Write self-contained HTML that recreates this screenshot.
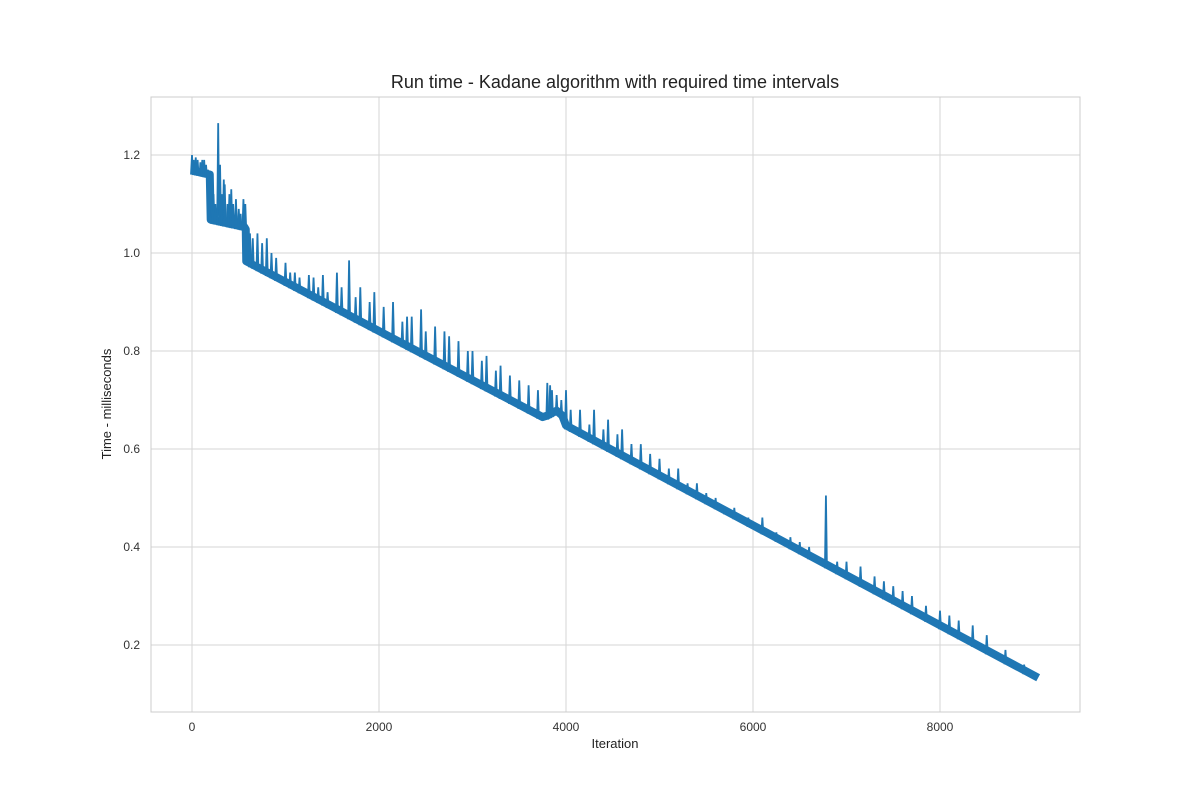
<!DOCTYPE html>
<html><head><meta charset="utf-8"><style>
body{margin:0;background:#fff;font-family:"Liberation Sans",sans-serif;}
</style></head><body>
<svg id="chart" width="1200" height="800">
<text x="615" y="88" text-anchor="middle" font-size="18" fill="#222">Run time - Kadane algorithm with required time intervals</text>
<g id="grid"></g>
<rect x="151" y="97" width="929" height="615" fill="none" stroke="#ccc" stroke-width="1"/>
<g id="marks"></g>
<g id="ticks"></g>
<text x="615" y="748" text-anchor="middle" font-size="13" fill="#222">Iteration</text>
<text transform="translate(111,404) rotate(-90)" text-anchor="middle" font-size="13" fill="#222">Time - milliseconds</text>
</svg>
<script>
const xTicks=[0,2000,4000,6000,8000];
const yTicks=[0.2,0.4,0.6,0.8,1.0,1.2];
const baseIters=[0,190,200,560,575,580,3750,3800,3900,3960,4000,9050];
const baseTimes=[1.16,1.152,1.06,1.045,1.04,0.975,0.657,0.66,0.67,0.66,0.64,0.125];
const spikeIters=[0,20,40,60,90,110,130,150,170,210,230,250,280,300,320,340,350,380,400,420,440,470,500,520,550,570,620,650,700,750,800,850,900,1000,1050,1100,1150,1250,1300,1350,1400,1450,1550,1600,1680,1750,1800,1900,1950,2050,2150,2250,2300,2350,2450,2500,2600,2700,2750,2850,2950,3000,3100,3150,3250,3300,3400,3500,3600,3700,3800,3830,3850,3900,3950,4000,4050,4150,4250,4300,4400,4450,4550,4600,4700,4800,4900,5000,5100,5200,5300,5400,5500,5600,5700,5800,5950,6100,6250,6400,6500,6600,6780,6900,7000,7150,7300,7400,7500,7600,7700,7850,8000,8100,8200,8350,8500,8700,8900];
const spikeTimes=[1.2,1.19,1.195,1.19,1.185,1.19,1.19,1.18,1.17,1.1,1.12,1.1,1.265,1.18,1.12,1.15,1.14,1.1,1.12,1.13,1.1,1.11,1.09,1.08,1.11,1.1,1.04,1.03,1.04,1.02,1.03,1.0,0.99,0.98,0.96,0.96,0.95,0.955,0.95,0.93,0.955,0.92,0.96,0.93,0.985,0.91,0.93,0.9,0.92,0.89,0.9,0.86,0.87,0.87,0.885,0.84,0.85,0.84,0.83,0.82,0.8,0.8,0.78,0.79,0.76,0.77,0.75,0.74,0.73,0.72,0.735,0.73,0.72,0.71,0.7,0.72,0.68,0.68,0.65,0.68,0.64,0.66,0.63,0.64,0.61,0.61,0.59,0.58,0.56,0.56,0.53,0.53,0.51,0.5,0.48,0.48,0.46,0.46,0.43,0.42,0.41,0.4,0.505,0.37,0.37,0.36,0.34,0.33,0.32,0.31,0.3,0.28,0.27,0.26,0.25,0.24,0.22,0.19,0.16];
const X=v=>192+v*(379-192)/2000;
const Y=v=>645-(v-0.2)*490;
const NS="http://www.w3.org/2000/svg";
function mk(t,a,p){const e=document.createElementNS(NS,t);for(const k in a)e.setAttribute(k,a[k]);p.appendChild(e);return e;}
const grid=document.getElementById('grid'),ticks=document.getElementById('ticks'),marks=document.getElementById('marks');
xTicks.forEach(t=>{
 const l=mk('line',{x1:X(t),x2:X(t),y1:97,y2:712,stroke:'#d5d5d5'},grid);
 
 
 const tx=mk('text',{x:X(t),y:731,'text-anchor':'middle','font-size':12,fill:'#333'},ticks);
 tx.textContent=t;
 
 
});
yTicks.forEach(t=>{
 const l=mk('line',{x1:151,x2:1080,y1:Y(t),y2:Y(t),stroke:'#d5d5d5'},grid);
 
 
 const tx=mk('text',{x:140,y:Y(t)+4,'text-anchor':'end','font-size':12,fill:'#333'},ticks);
 tx.textContent=t.toFixed(1);
 
 
});
function base(it){for(let i=1;i<baseIters.length;i++){if(it<=baseIters[i]){const a=baseIters[i-1],b=baseIters[i];return baseTimes[i-1]+(baseTimes[i]-baseTimes[i-1])*(it-a)/(b-a);}}return baseTimes[baseTimes.length-1];}
let d='M'+baseIters.map((it,i)=>X(it)+','+Y(baseTimes[i])).join(' L');
const band=mk('path',{d:d,fill:'none',stroke:'#1f77b4','stroke-width':8,'stroke-linejoin':'round',transform:'translate(0,-4)'},marks);


spikeIters.forEach((it,i)=>{
 const b=base(it);
 const p=mk('path',{d:'M'+(X(it)-1)+','+Y(b)+' L'+X(it)+','+Y(spikeTimes[i])+' L'+(X(it)+1)+','+Y(b),fill:'none',stroke:'#1f77b4','stroke-width':1.8},marks);
 
 
});
</script>
</body></html>
